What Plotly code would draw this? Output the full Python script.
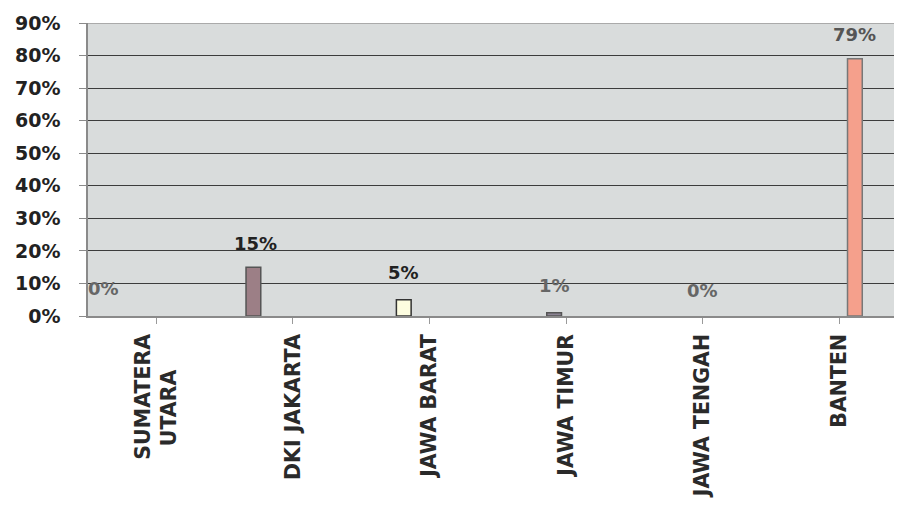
import plotly.graph_objects as go

categories = ["SUMATERA<br>UTARA&nbsp;&nbsp;&nbsp;&nbsp;&nbsp;", "DKI JAKARTA", "JAWA BARAT", "JAWA TIMUR", "JAWA TENGAH", "BANTEN"]
values = [0.0, 0.15, 0.05, 0.01, 0.0, 0.79]
value_labels = ["0%", "15%", "5%", "1%", "0%", "79%"]
y_ticks = [0, 0.1, 0.2, 0.3, 0.4, 0.5, 0.6, 0.7, 0.8, 0.9]

# styles
fills = ["#9999ff", "#9c7f86", "#fdfde0", "#8c8494", "#ccffff", "#f5a08c"]
outlines = ["#555555", "#555555", "#333333", "#555555", "#555555", "#777777"]
label_colors = ["#666666", "#222222", "#222222", "#666666", "#666666", "#555555"]
label_dx = [-0.383, 0.723, 1.813, 2.919, 4.002, 5.115]
label_y = [0.083, 0.224, 0.135, 0.095, 0.077, 0.866]

FONT = "DejaVu Sans"
n = len(categories)
bar_w = 0.108
offsets = [-0.444 + 0.101 * i for i in range(n)]

fig = go.Figure()
for i in range(n):
    yv = [None] * n
    yv[i] = values[i]
    lw = 1.5 if values[i] > 0 else 0
    fig.add_trace(go.Bar(
        x=list(range(n)), y=yv, width=bar_w, offset=offsets[i],
        marker=dict(color=fills[i], line=dict(color=outlines[i], width=lw)),
        showlegend=False, hoverinfo="skip",
    ))

for i in range(n):
    fig.add_annotation(x=label_dx[i], y=label_y[i], text=value_labels[i], showarrow=False,
                       font=dict(family=FONT, size=18, color=label_colors[i], weight="bold"),
                       xref="x", yref="y")

fig.add_shape(type="line", xref="paper", yref="y", x0=0, x1=1, y0=0.9, y1=0.9,
              line=dict(color="#9a9a9a", width=1.5), layer="above")

# the page body adds an 8px offset, so the figure is sized 8px smaller
fig.update_layout(
    width=894, height=500,
    margin=dict(l=80, r=0, t=15, b=192),
    paper_bgcolor="white", plot_bgcolor="#d9dcdc",
    barmode="overlay",
    font=dict(family=FONT, size=18, color="#222222", weight="bold"),
)
fig.update_xaxes(
    range=[-0.5, 5.46], tickmode="array", tickvals=list(range(n)), ticktext=categories,
    tickangle=-90, tickson="boundaries", ticks="outside", ticklen=6, tickcolor="#9a9a9a",
    showline=True, linecolor="#8a8a8a", linewidth=1.5, showgrid=False,
    tickfont=dict(family=FONT, size=20.5, color="#2a2a2a", weight="bold"),
    ticklabelstandoff=2, automargin=False,
)
fig.update_yaxes(
    range=[0, 0.9], tickvals=y_ticks, tickformat=".0%",
    ticks="outside", ticklen=7, tickcolor="#8a8a8a",
    showline=True, linecolor="#8a8a8a", linewidth=1.5,
    showgrid=True, gridcolor="#3c3c3c", gridwidth=1.2, zeroline=False,
    tickfont=dict(family=FONT, size=19, color="#222222", weight="bold"),
    ticklabelstandoff=15, automargin=False,
)

fig.write_html("out.html")
